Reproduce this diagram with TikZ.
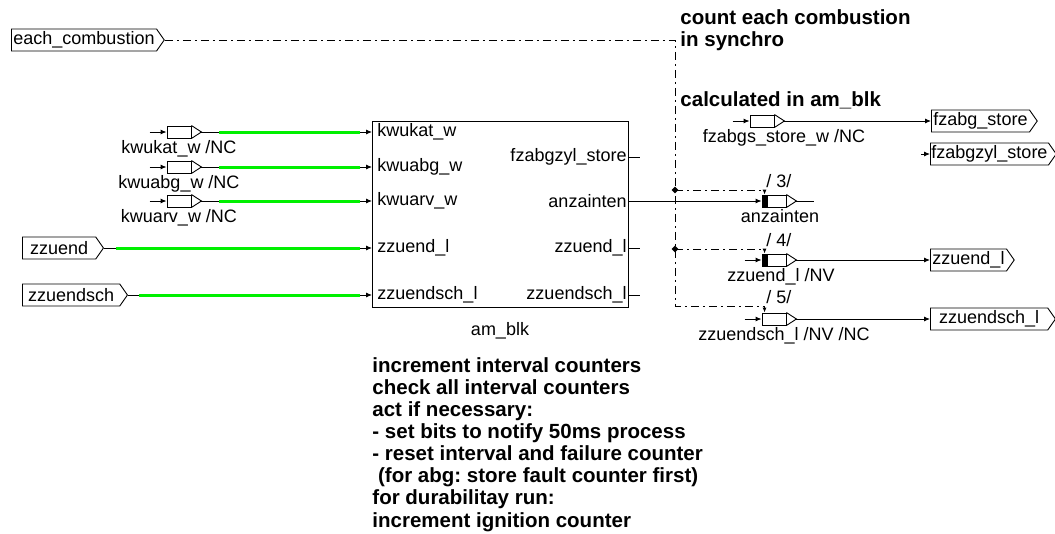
\documentclass[tikz,border=0pt]{standalone}
\usepackage{fontspec}
\setmainfont{Liberation Sans}
\usepackage{tikz}
\usetikzlibrary{arrows.meta,positioning,shapes.geometric,shapes.symbols}
\definecolor{Lime}{HTML}{00F000}
\frenchspacing

\begin{document}
\begin{tikzpicture}[x=1pt,y=-1pt,>={Latex[length=6pt,width=5pt]},line width=0.9pt,
font=\fontsize{18}{20}\selectfont,
every label/.style={inner sep=1.5pt},
sig/.style={draw,signal,signal to=east,signal pointer angle=110,minimum height=22,inner xsep=2pt,inner ysep=0pt,anchor=west},
blk/.style={draw,minimum width=24,minimum height=12,inner sep=0pt},
pin/.style={anchor=west,inner xsep=5pt,inner ysep=0pt},
pout/.style={anchor=east,inner xsep=1pt,inner ysep=0pt},
hl/.style={line width=3pt,Lime},
ctl/.style={dash pattern=on 8pt off 4pt on 2pt off 4pt,-{Latex[length=5pt,width=4pt]}},
jdot/.style={diamond,fill,inner sep=0pt,minimum size=7pt},
tag/.style={anchor=base west,inner sep=0pt},
note/.style={font=\fontsize{20.5}{22.1}\selectfont\bfseries,align=left,inner sep=0pt,anchor=north west}]
\useasboundingbox (0,0) rectangle (1055,533);
\node[sig] (ecomb) at (11,40) {each\_combustion};
\node[sig,minimum width=81] (zzuend) at (22,248) {zzuend};
\node[sig,minimum width=105] (zzuendsch) at (22,295) {zzuendsch};
\node[blk,label={below:kwukat\_w /NC}] (kat) at (179,132) {};
\node[blk,label={below:kwuabg\_w /NC}] (abg) at (179,167) {};
\node[blk,label={below:kwuarv\_w /NC}] (arv) at (179,201) {};
\node[draw,minimum width=256,minimum height=186,inner sep=0pt,label={[label distance=13pt]below:am\_blk}] (am) at (500,214) {};
\node[pin] (ikat) at (372,132) {kwukat\_w};
\node[pin] (iabg) at (372,167) {kwuabg\_w};
\node[pin] (iarv) at (372,201) {kwuarv\_w};
\node[pin] (izl) at (372,248) {zzuend\_l};
\node[pin] (izsl) at (372,295) {zzuendsch\_l};
\node[pout] (ofzy) at (628,157) {fzabgzyl\_store};
\node[pout] (oanz) at (628,201) {anzainten};
\node[pout] (ozl) at (628,248) {zzuend\_l};
\node[pout] (ozsl) at (628,295) {zzuendsch\_l};
\node[blk,label={[xshift=22pt]below:fzabgs\_store\_w /NC}] (fzs) at (762,121) {};
\node[blk,label={[xshift=6pt]below:anzainten}] (anz) at (774,201) {};
\node[blk,label={[xshift=7pt]below:zzuend\_l /NV}] (zl) at (774,260) {};
\node[blk,label={[xshift=10pt]below:zzuendsch\_l /NV /NC}] (zsl) at (774,319) {};
\node[sig] (fzabg) at (931,121) {fzabg\_store};
\node[sig,inner xsep=1pt] (fzyl) at (930,154) {fzabgzyl\_store};
\node[sig] (zlout) at (930,260) {zzuend\_l};
\node[sig,minimum width=125] (zslout) at (930,319) {zzuendsch\_l};
\node[note] (sync) at (680,9) {count each combustion\\in synchro};
\node[note] (calc) at (680,91) {calculated in am\_blk};
\node[note] (todo) at (372,357) {increment interval counters\\check all interval counters\\act if necessary:\\- set bits to notify 50ms process\\- reset interval and failure counter\\~(for abg: store fault counter first)\\for durabilitay run:\\increment ignition counter};
\node[tag] (n3) at (766,187) {/ 3/};
\node[tag] (n4) at (766,246) {/ 4/};
\node[tag] (n5) at (766,303) {/ 5/};
\foreach \n in {kat,abg,arv,fzs,anz,zl,zsl}{\draw (\n.north east) -- ([xshift=10pt]\n.east) coordinate (\n-o) -- (\n.south east);}
\foreach \n in {anz,zl}{\fill (\n.north west) rectangle ([xshift=6pt]\n.south west);}
\foreach \n in {kat,abg,arv,fzs,zl,zsl}{\coordinate (\n-i) at ([xshift=-17pt]\n.west); \draw[->] (\n-i) -- (\n);}
\foreach \u/\v/\a in {kat-o/ikat/18,abg-o/iabg/18,arv-o/iarv/18,zzuend/izl/12,zzuendsch/izsl/11}{
\draw[->] (\u.east) -- (\v.west);
\draw[hl,shorten <=\a pt,shorten >=12pt] (\u.east) -- (\v.west);}
\coordinate (q1) at (640,157);
\coordinate (q2) at (640,248);
\coordinate (q3) at (640,295);
\coordinate (q4) at (814,201);
\coordinate (q5) at (921,154);
\foreach \u/\v in {ofzy/q1,ozl/q2,ozsl/q3}{\draw (\u.east) -- (\v);}
\draw[->] (oanz.east) -- (anz);
\draw (anz-o) -- (q4);
\foreach \u/\v in {fzs-o/fzabg,q5/fzyl,zl-o/zlout,zsl-o/zslout}{\draw[->] (\u) -- (\v.west);}
\coordinate (c3) at (675,190);
\coordinate (c4) at (675,249);
\coordinate (c5) at (675,306);
\draw[ctl] (ecomb.east) -| (c5) -| ([xshift=3pt]zsl.north west);
\draw[ctl] (c3) -| ([xshift=3pt]anz.north west);
\draw[ctl] (c4) -| ([xshift=3pt]zl.north west);
\node[jdot] (j3) at (c3) {};
\node[jdot] (j4) at (c4) {};
\end{tikzpicture}
\end{document}
